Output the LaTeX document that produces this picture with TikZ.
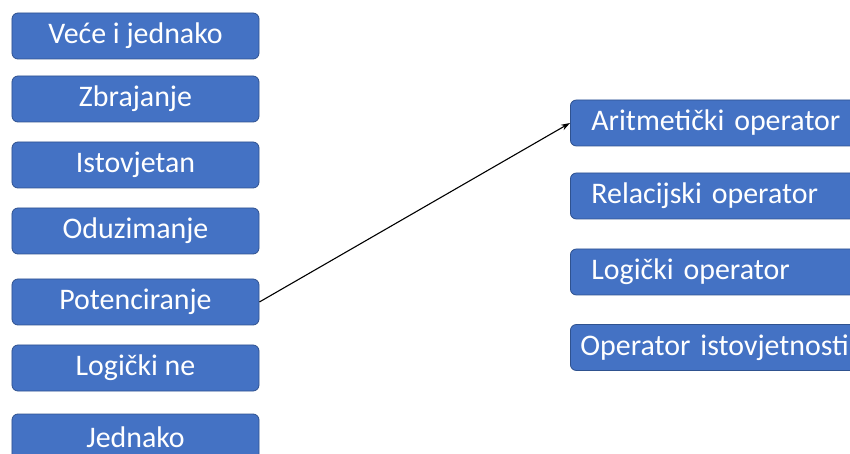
\documentclass[tikz,border=0pt]{standalone}
\usepackage{fontspec}
\setmainfont{Carlito}
\usepackage{xcolor}
\usetikzlibrary{arrows.meta}
\definecolor{boxblue}{HTML}{4472C4}
\definecolor{boxedge}{HTML}{2F528F}

\begin{document}
\begin{tikzpicture}[x=1bp,y=-1bp,
		opbox/.style={draw=boxedge, line width=0.8bp, fill=boxblue, rounded corners=6bp,
			text=white, font=\fontsize{30}{34}\selectfont, minimum width=247bp,
			minimum height=46bp, inner sep=0pt},
		groupbox/.style={opbox, anchor=west, minimum width=300bp, text width=258bp,
			inner xsep=21bp, align=left}]
		\clip (0,0) rectangle (850,454);
		% left column
		\node [opbox] (vece) at (135.5,36) {Veće i jednako};
		\node [opbox] (zbr) at (135.5,99) {Zbrajanje};
		\node [opbox] (ist) at (135.5,165) {Istovjetan};
		\node [opbox] (odu) at (135.5,231) {Oduzimanje};
		\node [opbox] (pot) at (135.5,302) {Potenciranje};
		\node [opbox] (log) at (135.5,368) {Logički ne};
		\node [opbox] (jed) at (135.5,437) {Jednako};
		% right column
		\node [groupbox] (arit) at (570,123) {Aritmetički operator};
		\node [groupbox] (rel) at (570,196) {Relacijski operator};
		\node [groupbox] (logop) at (570,272) {Logički operator};
		\node [groupbox, text width=280bp, inner xsep=10bp] (istop) at (570,347.5) {Operator istovjetnosti};
		\draw [black, line width=1.1bp, -{Stealth[length=9bp,width=6bp]}] (pot.east) -- (arit.west);
	\end{tikzpicture}
\end{document}
